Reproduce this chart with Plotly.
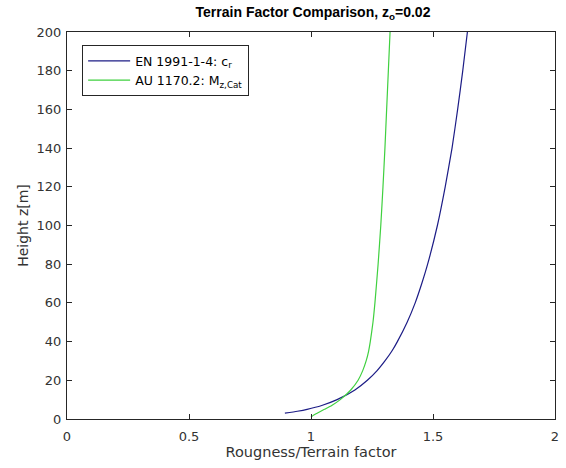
import plotly.graph_objects as go

# EN 1991-1-4 roughness factor c_r
en_z = [3, 4, 5, 7, 10, 15, 20, 25, 30, 35, 40, 50, 60, 70, 80, 100, 120, 140, 160, 180, 200]
en_cr = [0.893, 0.944, 0.984, 1.044, 1.107, 1.180, 1.231, 1.271, 1.303, 1.331, 1.354, 1.394, 1.427, 1.454, 1.478, 1.518, 1.550, 1.578, 1.601, 1.622, 1.641]

# AU 1170.2 terrain multiplier M_z,Cat
au_z = [1, 2, 3, 5, 7, 10, 15, 20, 25, 30, 35, 40, 50, 60, 80, 100, 120, 140, 160, 180, 200]
au_m = [1.000, 1.010, 1.025, 1.055, 1.085, 1.120, 1.163, 1.193, 1.212, 1.226, 1.236, 1.243, 1.254, 1.262, 1.275, 1.286, 1.295, 1.303, 1.310, 1.317, 1.324]

x_ticks = [0, 0.5, 1, 1.5, 2]
x_tick_labels = ["0", "0.5", "1", "1.5", "2"]
y_ticks = list(range(0, 201, 20))

FONT = "DejaVu Sans, Liberation Sans, Arial, sans-serif"
TFONT = "Liberation Sans, Arial, sans-serif"

fig = go.Figure()
fig.add_trace(go.Scatter(x=en_cr, y=en_z, mode="lines", line=dict(color="#1c1c86", width=1.2, shape="spline", smoothing=0.5),
                         name="EN 1991-1-4: c<sub>r</sub>"))
fig.add_trace(go.Scatter(x=au_m, y=au_z, mode="lines", line=dict(color="#3fd03f", width=1.2, shape="spline", smoothing=0.5),
                         name="AU 1170.2: M<sub>z,Cat</sub>"))

axis_common = dict(showline=True, linecolor="#262626", linewidth=1, mirror="ticks", ticks="inside",
                   ticklen=5, tickcolor="#262626", showgrid=False, zeroline=False,
                   tickfont=dict(family=FONT, size=13, color="#333333"))

fig.update_layout(
    width=566, height=468,
    margin=dict(l=67, r=7, t=32, b=49),
    paper_bgcolor="white", plot_bgcolor="white",
    title=dict(text="<b>Terrain Factor Comparison, z<sub>o</sub>=0.02</b>", x=313/566, xanchor="center",
               y=1 - 12/468, yanchor="middle",
               font=dict(family=TFONT, size=14, color="black")),
    xaxis=dict(range=[0, 2], tickvals=x_ticks, ticktext=x_tick_labels, ticklabelstandoff=5,
               title=dict(text="Rougness/Terrain factor", standoff=3,
                          font=dict(family=FONT, size=14.5, color="#333333")),
               **axis_common),
    yaxis=dict(range=[0, 200], tickvals=y_ticks, ticklabelstandoff=2,
               title=dict(text="Height z[m]", standoff=4,
                          font=dict(family=FONT, size=14, color="#333333")),
               **axis_common),
    legend=dict(x=0.031, y=0.966, xanchor="left", yanchor="top", bgcolor="white",
                bordercolor="#262626", borderwidth=1, tracegroupgap=0, itemwidth=42,
                font=dict(family=FONT, size=12.5, color="black")),
    showlegend=True,
)

fig.write_html("out.html")
